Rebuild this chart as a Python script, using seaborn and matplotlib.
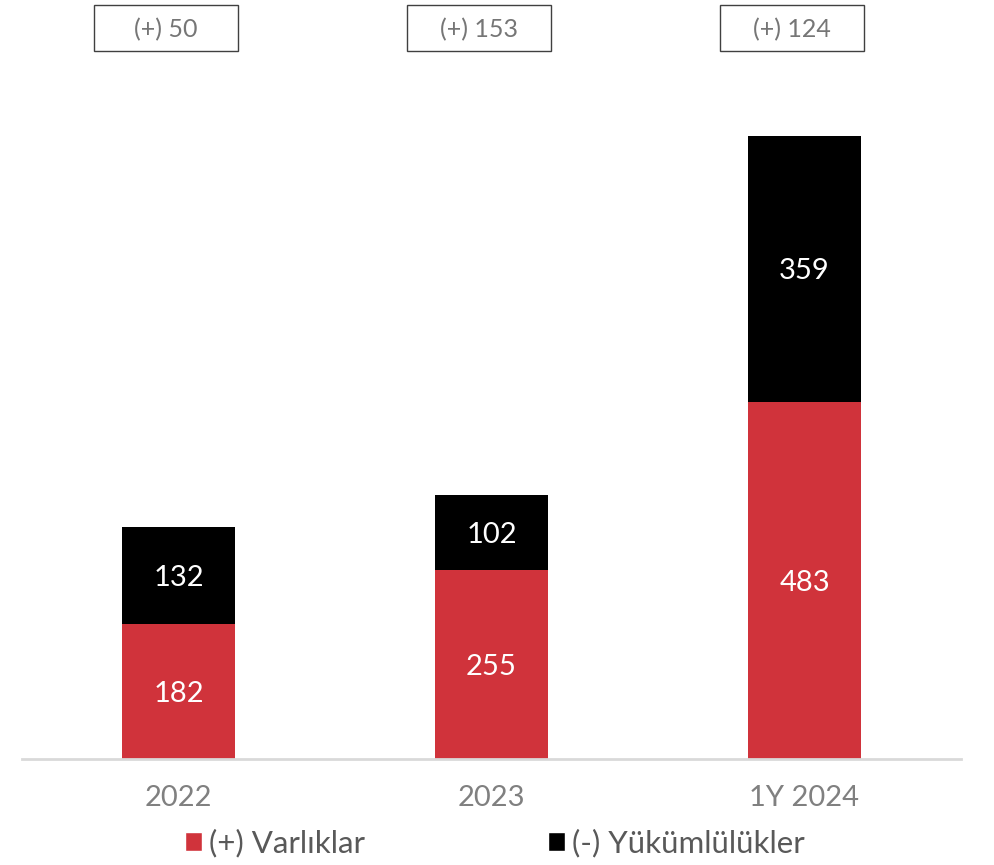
import matplotlib
matplotlib.use("Agg")
import matplotlib.pyplot as plt
import seaborn as sns
from matplotlib.patches import Patch, Rectangle

years = ["2022", "2023", "1Y 2024"]
varliklar = [182, 255, 483]
yukumlulukler = [132, 102, 359]
net_labels = ["(+) 50", "(+) 153", "(+) 124"]

red = "#D0333B"
totals = [a + b for a, b in zip(varliklar, yukumlulukler)]

sns.set_style("white")
plt.rcParams["font.family"] = ["Lato", "DejaVu Sans"]

fig = plt.figure(figsize=(9.95, 8.65), dpi=100)
ax = fig.add_axes([22 / 995, 106 / 865, 939 / 995, 759 / 865])

# black = total, red drawn on top -> stacked look
sns.barplot(x=years, y=totals, color="black", width=0.358, saturation=1,
            linewidth=0, ax=ax)
sns.barplot(x=years, y=varliklar, color=red, width=0.358, saturation=1,
            linewidth=0, ax=ax)

for i, (a, b) in enumerate(zip(varliklar, yukumlulukler)):
    ax.text(i, a / 2 - 3, str(a), ha="center", va="center", color="white", fontsize=21)
    ax.text(i, a + b / 2 - 3, str(b), ha="center", va="center", color="white", fontsize=21)

# net position boxes above the bars
for i, lab in enumerate(net_labels):
    ax.add_patch(Rectangle((i - 0.27, 957), 0.46, 62, facecolor="white",
                           edgecolor="#404040", linewidth=1.0, clip_on=False))
    ax.text(i - 0.04, 986, lab, ha="center", va="center", color="#767676",
            fontsize=18)

ax.set_xlim(-0.5, 2.5)
ax.set_ylim(0, 1025.8)
ax.set_yticks([])
ax.set_xlabel("")
ax.set_ylabel("")
for s in ["top", "left", "right"]:
    ax.spines[s].set_visible(False)
ax.spines["bottom"].set_color("#D9D9D9")
ax.spines["bottom"].set_linewidth(2.0)
ax.tick_params(axis="x", length=0, pad=19, labelsize=21, labelcolor="#808080")

handles = [Patch(facecolor=red, label="(+) Varlıklar"),
           Patch(facecolor="black", label="(-) Yükümlülükler")]
leg = fig.legend(handles=handles, loc="center", bbox_to_anchor=(495 / 995, 1 - 843 / 865),
                 ncol=2, frameon=False, fontsize=22.5, handlelength=0.55, handleheight=0.58,
                 handletextpad=0.22, columnspacing=5.85)
for t in leg.get_texts():
    t.set_color("#595959")

fig.savefig("out.png", dpi=100)
